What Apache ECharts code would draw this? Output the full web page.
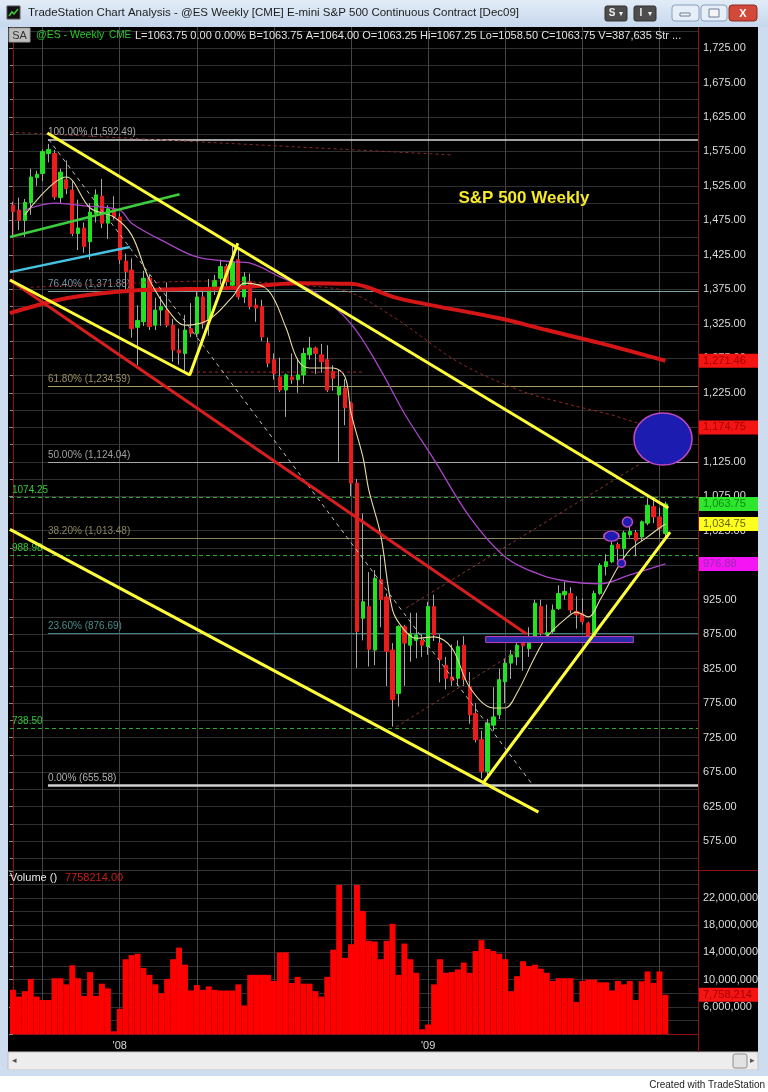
<!DOCTYPE html>
<html>
<head>
<meta charset="utf-8">
<title>S&amp;P 500 Weekly</title>
<script src="https://cdn.jsdelivr.net/npm/echarts@6.0.0/dist/echarts.min.js"></script>
<style>
html,body{margin:0;padding:0;background:#000;}
#chart{width:768px;height:1092px;}
</style>
</head>
<body>
<div id="chart"></div>
<script>
// ================= DATA =================
const firstWeek = '2007-08-27';
const slotCount = 116;
const barOpen = [1497,1490,1475,1501,1537,1543,1572,1572,1508,1534, 1519,1456,1464,1444,1485,1510,1471,1492,1480,1416, 1403,1320,1328,1391,1323,1345,1345,1323,1287,1282, 1318,1311,1364,1330,1376,1391,1408,1381,1418,1364, 1386,1352,1350,1297,1273,1248,1229,1248,1244,1251, 1280,1290,1280,1273,1256,1222,1232,1210,1094,898, 915,852,954,929,852,789,886,859,866,866, 857,915,862,830,813,811,859,799,760,722, 676,743,758,806,833,842,862,854,869,915, 874,879,912,932,934,908,905,891,871,934, 973,980,1005,999,1019,1022,1016,1036,1060,1045, 1021];
const barClose = [1488,1475,1501,1538,1542,1575,1578,1509,1545,1521, 1456,1464,1437,1487,1512,1471,1492,1480,1418,1401, 1318,1330,1391,1321,1345,1350,1323,1287,1283,1316, 1311,1364,1326,1374,1388,1408,1386,1415,1364,1393, 1350,1348,1306,1268,1253,1229,1251,1244,1251,1282, 1290,1282,1270,1229,1246,1234,1203,1094,879,922, 853,956,925,850,780,886,862,876,874,859, 915,874,838,811,808,857,809,758,722,676, 746,755,809,833,845,859,858,869,920,876, 877,910,934,937,910,903,893,871,934,975, 980,1004,999,1022,1024,1011,1038,1062,1045,1028, 1063.75];
const barHigh = [1502,1508,1506,1550,1547,1578,1586,1577,1550,1562, 1532,1505,1472,1500,1520,1535,1497,1510,1485,1427, 1420,1352,1402,1396,1363,1365,1385,1332,1318,1338, 1355,1376,1377,1390,1396,1418,1412,1440,1432,1400, 1398,1362,1360,1305,1282,1276,1253,1282,1275,1290, 1306,1292,1296,1294,1265,1258,1245,1212,1100,1050, 965,968,990,934,862,888,888,906,906,875, 922,932,875,842,860,866,872,820,775,735, 752,798,825,840,852,872,866,885,925,925, 918,918,946,951,943,930,927,893,938,978, 991,1013,1008,1025,1035,1026,1040,1072,1074.25,1058, 1067.25];
const barLow = [1452,1461,1451,1483,1525,1532,1559,1505,1500,1513, 1452,1432,1428,1418,1472,1464,1448,1476,1412,1375, 1305,1265,1322,1316,1316,1322,1320,1270,1266,1253, 1306,1306,1318,1308,1367,1382,1380,1378,1360,1355, 1346,1328,1300,1262,1244,1226,1190,1238,1225,1238, 1273,1252,1254,1226,1228,1125,1178,1075,826,866, 828,830,885,800,741,770,800,835,840,842, 845,865,805,795,800,800,800,745,718,666, 667,735,752,775,810,830,822,842,866,873, 870,876,910,925,905,883,889,864,868,932, 960,978,982,975,1015,988,1010,1033,1036,1015, 1014];
// volume in millions of contracts
const volumeM = [8.5,7.5,8.3,10.1,7.5,7.0,7.0,10.2,10.2,9.3, 12.1,10.2,7.6,11.1,7.6,9.4,8.7,2.4,5.7,13.0, 13.6,13.8,11.7,10.7,9.3,8.0,10.1,13.0,14.7,12.2, 8.4,9.2,8.5,9.0,8.5,8.4,8.4,8.4,9.3,6.2, 10.7,10.7,10.7,10.7,9.8,14.0,14.0,9.5,10.4,9.4, 9.4,8.3,7.5,10.4,14.4,23.9,13.2,15.2,23.9,20.1, 15.7,15.6,13.0,15.7,18.2,10.7,15.3,13.0,11.0,2.7, 3.4,9.3,13.0,11.0,11.1,11.5,12.5,11.0,14.2,15.8, 14.5,14.2,13.8,13.0,8.3,10.5,12.7,12.0,12.2,11.6, 11.0,9.8,10.2,10.2,10.2,6.7,9.8,10.0,10.0,9.6, 9.6,8.4,9.8,9.3,9.8,7.0,9.75,11.2,9.5,11.2, 7.758214];

const xTickIdx = [18, 70];
const xTickText = ["'08", "'09"];
const quarterIdx = [5, 18, 31, 44, 57, 70, 83, 96, 109];

// moving averages: [bar, price]
const maFast = [[2,1483],[9,1538],[13,1493],[17,1480],[20,1454],[23,1389],[27,1335],[29,1323],[33,1331],[37,1364],[39,1384],[43,1374],[46,1320],[48,1273],[50,1261],[54,1261],[56,1248],[57,1196],[59,1132],[60,1084],[62,1019],[64,910],[66,881],[68,869],[71,871],[74,855],[77,798],[81,768],[83,768],[85,790],[88,842],[90,871],[93,896],[95,907],[97,900],[99,925],[102,972],[104,997],[107,1016],[109,1029],[110,1034.75]];
const maMid = [[2,1490],[7,1500],[12,1496],[18,1490],[20,1471],[26,1442],[31,1422],[37,1415],[40,1413],[45,1393],[51,1370],[57,1325],[62,1258],[66,1195],[71,1128],[77,1045],[83,987],[89,961],[94,951],[99,948],[104,961],[110,976.88]];
const maSlow = [[-0.5,1340],[0,1342],[9,1362],[20,1373],[37,1377],[48,1384],[57,1383],[65,1362],[82,1333],[90,1316],[99,1297],[110,1271.46]];
const maSlowDash = [[3,1378],[20,1384],[34,1387],[50,1380],[57,1370],[65,1330],[75,1270],[85,1230],[92,1212],[100,1195],[109,1175],[110,1174.75]];

// Fibonacci retracement
const fibPct = ['100.00%','76.40%','61.80%','50.00%','38.20%','23.60%','0.00%'];
const fibLevels = [1592.49, 1371.88, 1234.59, 1124.04, 1013.48, 876.69, 655.58];
const fibLineColors = ['#d6d6d6','#7fa3a3','#a89c6a','#a6a6a6','#8c8660','#3d8282','#d0d0d0'];
const fibTextColors = ['#a8a8a8','#7794a4','#9a8e60','#a0a0a0','#8a8460','#4a8c8c','#b0b0b0'];
const greenLevels = [1074.25, 988.98, 738.50];

// drawn trendlines [bar, price]
const yellowUpper = [[5.8,1601.7],[110.5,1058]];
const yellowLower = [[-0.5,1027],[88.6,617]];
const yellowZig = [[-0.5,1388.6],[29.8,1250.8],[37.9,1442]];
const yellowRise = [[79.4,660.6],[110.8,1023]];
const redDiag = [[-0.5,1388.6],[86.6,875.2]];
const greenTrend = [[-0.5,1451],[28.1,1513]];
const cyanTrend = [[-0.5,1400],[19.7,1436.4]];
const grayDash = [[6,1592.49],[87.4,659]];
const redDashTop = [[-0.5,1603],[74,1570]];
const redDashFlat = [[29,1255],[59,1255]];
const redDashA = [[64.6,740.4],[85.3,852]];
const redDashB = [[66.3,912.9],[106,1123.2]];
const supportBox = [[79.7,871.5],[104.6,862.8]];
// ellipses: [bar, price, widthPx, heightPx]
const ellipses = [[109.6,1158,58,52],[103.6,1037.6,10,10],[100.9,1017,15,10],[102.6,978,8,8]];

// right-axis value flags
const flagValues = [1271.46, 1174.75, 1063.75, 1034.75, 976.88];
const flagFills = ['#f41414','#f41414','#2ee62e','#ffff1e','#f414f4'];
const flagTexts = ['#a80000','#a80000','#0f8a0f','#66660f','#9a2cb0'];
const volFlagValue = 7758214;

// ================= HELPERS =================
function fmtNum(v, dec) {
  const s = Number(v).toFixed(dec);
  const parts = s.split('.');
  const ii = parts[0].replace(/\B(?=(\d{3})+(?!\d))/g, ',');
  return parts.length > 1 ? ii + '.' + parts[1] : ii;
}
const cats = [];
{
  const d0 = new Date(firstWeek + 'T00:00:00Z').getTime();
  for (let i = 0; i < slotCount; i++) cats.push(new Date(d0 + i * 7 * 86400000).toISOString().slice(0, 10));
}
const wickData = barOpen.map((o, i) => [o, barClose[i], barLow[i], barHigh[i]]);
const bodyData = barOpen.map((o, i) => [o, barClose[i], Math.min(o, barClose[i]), Math.max(o, barClose[i])]);

const FF = '"Liberation Sans", Arial, sans-serif';
const GL = 10, GW = 688;

function trend(data, color, width, type, z) {
  return { type: 'line', xAxisIndex: 1, yAxisIndex: 0, data: data, symbol: 'none', silent: true,
    z: z || 5, lineStyle: { color: color, width: width, type: type || 'solid' }, animation: false };
}
function ma(data, color, width, type) {
  return { type: 'line', xAxisIndex: 1, yAxisIndex: 0, data: data, symbol: 'none', silent: true,
    smooth: 0.35, z: 4, lineStyle: { color: color, width: width, type: type || 'solid' }, animation: false };
}

const fibMarks = fibLevels.map((lv, i) => [
  { coord: [5.9, lv], lineStyle: { color: fibLineColors[i], width: (i === 6 ? 2.5 : (i === 0 ? 1.5 : 1)), type: 'solid' },
    label: { show: true, position: 'insideStartTop', distance: [0, 2], formatter: fibPct[i] + ' (' + fmtNum(lv, 2) + ')',
      color: fibTextColors[i], fontSize: 10, fontFamily: FF } },
  { coord: [slotCount - 0.5, lv] }
]);
const greenMarks = greenLevels.map(lv => [
  { coord: [-0.5, lv], lineStyle: { color: '#2ea82e', width: 1, type: [4, 3] },
    label: { show: true, position: 'insideStartTop', distance: [2, 2], formatter: fmtNum(lv, 2).replace(',', ''),
      color: '#33c833', fontSize: 10, fontFamily: FF } },
  { coord: [slotCount - 0.5, lv] }
]);

const axisCommon = {
  axisLine: { show: true, lineStyle: { color: '#8e1212', width: 1 } },
  axisTick: { show: true, inside: true, length: 4, lineStyle: { color: '#8a8a8a' } },
  minorTick: { show: true, splitNumber: 2, length: 3, lineStyle: { color: '#8a8a8a' } },
  splitLine: { show: true, showMinLine: false, showMaxLine: false, lineStyle: { color: '#303030', width: 1 } },
  minorSplitLine: { show: true, lineStyle: { color: '#303030', width: 1 } }
};

const option = {
  backgroundColor: '#000',
  animation: false,
  textStyle: { fontFamily: FF },
  grid: [
    { left: GL, width: GW, top: 13.52, height: 862.0, outerBoundsMode: 'none', containLabel: false },
    { left: GL, width: GW, top: 870.8, height: 163.2, outerBoundsMode: 'none', containLabel: false }
  ],
  xAxis: [
    { type: 'category', gridIndex: 0, data: cats, show: false },
    { type: 'value', gridIndex: 0, min: -0.5, max: slotCount - 0.5, show: false },
    { type: 'category', gridIndex: 1, data: cats,
      axisLine: { show: true, lineStyle: { color: '#8e1212' } }, axisTick: { show: false },
      splitLine: { show: false },
      axisLabel: { interval: 0, margin: 6, color: '#d8d8d8', fontSize: 11, fontFamily: FF,
        formatter: function (val, idx) { const k = xTickIdx.indexOf(idx); return k >= 0 ? xTickText[k] : ''; } } },
    { type: 'value', gridIndex: 1, min: -0.5, max: slotCount - 0.5, show: false }
  ],
  yAxis: [
    Object.assign({ type: 'value', gridIndex: 0, position: 'right', min: 525, max: 1775, interval: 50,
      axisLabel: { showMinLabel: false, showMaxLabel: false, margin: 5, color: '#dcdcdc', fontSize: 11, fontFamily: FF,
        formatter: v => fmtNum(v, 2) } }, axisCommon),
    Object.assign({ type: 'value', gridIndex: 1, position: 'right', min: 2000000, max: 26000000, interval: 4000000,
      axisLabel: { showMinLabel: false, showMaxLabel: false, margin: 5, color: '#dcdcdc', fontSize: 11, fontFamily: FF,
        formatter: v => fmtNum(v, 0) } }, axisCommon)
  ],
  series: [
    // quarter grid lines (price)
    { type: 'line', xAxisIndex: 1, yAxisIndex: 0, data: [], silent: true, z: 1,
      markLine: { silent: true, z: 1, symbol: ['none', 'none'], label: { show: false },
        lineStyle: { color: '#454545', width: 1, type: 'solid' },
        data: quarterIdx.map(i => ({ xAxis: i })) } },
    // fib and support levels
    { type: 'line', xAxisIndex: 1, yAxisIndex: 0, data: [], silent: true, z: 1,
      markLine: { silent: true, z: 1, symbol: ['none', 'none'], animation: false,
        data: fibMarks.concat(greenMarks) } },
    // wicks
    { type: 'candlestick', xAxisIndex: 0, yAxisIndex: 0, z: 2, silent: true, barWidth: 1, data: wickData,
      itemStyle: { color: '#a8a8a8', color0: '#a8a8a8', borderColor: '#a8a8a8', borderColor0: '#a8a8a8', borderWidth: 1 } },
    // bodies
    { type: 'candlestick', xAxisIndex: 0, yAxisIndex: 0, z: 3, silent: true, barWidth: 3.8, data: bodyData,
      itemStyle: { color: '#22e022', color0: '#ec1c1c', borderColor: '#22e022', borderColor0: '#ec1c1c', borderWidth: 1 } },
    // moving averages
    ma(maSlowDash, '#9a2626', 1, [3, 3]),
    ma(maSlow, '#d41616', 4),
    ma(maMid, '#a844c8', 1.3),
    ma(maFast, '#e6dca2', 1.1),
    // trendlines
    trend(redDashTop, '#8a2a2a', 1, [3, 3]),
    trend(redDashFlat, '#9a2a2a', 1, [3, 3]),
    trend(redDashA, '#8a3a2a', 1, [3, 3]),
    trend(redDashB, '#8a3a2a', 1, [3, 3]),
    trend(grayDash, '#bdbdbd', 1, [4, 4]),
    trend(greenTrend, '#3ccc3c', 2.5),
    trend(cyanTrend, '#46c2e2', 2.5),
    trend(redDiag, '#d81e1e', 3),
    trend(yellowUpper, '#ffff3a', 3),
    trend(yellowLower, '#ffff3a', 3),
    trend(yellowZig, '#ffff3a', 3),
    trend(yellowRise, '#ffff3a', 3),
    // support box
    { type: 'line', xAxisIndex: 1, yAxisIndex: 0, data: [], silent: true, z: 5,
      markArea: { silent: true, z: 5, itemStyle: { color: '#2a2aa6', borderColor: '#c040c0', borderWidth: 1 },
        data: [[{ coord: supportBox[0] }, { coord: supportBox[1] }]] } },
    // ellipses
    { type: 'scatter', xAxisIndex: 1, yAxisIndex: 0, z: 6, silent: true, symbol: 'circle',
      data: ellipses.map(e => ({ value: [e[0], e[1]], symbolSize: [e[2], e[3]] })),
      itemStyle: { color: '#1c1cb0', borderColor: '#c048c0', borderWidth: 1.5, opacity: 1 } },
    // volume
    { type: 'bar', xAxisIndex: 2, yAxisIndex: 1, z: 2, silent: true, data: volumeM.map(v => v * 1e6),
      barCategoryGap: '0%', barGap: '0%', itemStyle: { color: '#ff0000' } },
    { type: 'line', xAxisIndex: 3, yAxisIndex: 1, data: [], silent: true, z: 1,
      markLine: { silent: true, z: 1, symbol: ['none', 'none'], label: { show: false },
        lineStyle: { color: '#454545', width: 1, type: 'solid' },
        data: quarterIdx.map(i => ({ xAxis: i })) } }
  ]
};

const chart = echarts.init(document.getElementById('chart'), null, { renderer: 'canvas' });
chart.setOption(option);

// ================= CHROME / ANNOTATIONS =================
function txt(t, x, y, size, fill, align, weight) {
  return { type: 'text', z: 110, silent: true,
    style: { text: t, x: x, y: y, font: (weight || 'normal') + ' ' + size + 'px ' + FF, fill: fill,
      textAlign: align || 'left', align: align || 'left', textVerticalAlign: 'middle', verticalAlign: 'middle' } };
}
function rect(x, y, w, h, fill, stroke, r) {
  const o = { type: 'rect', z: 100, silent: true, shape: { x: x, y: y, width: w, height: h, r: r || 0 }, style: { fill: fill } };
  if (stroke) { o.style.stroke = stroke; o.style.lineWidth = 1; }
  return o;
}
const frameCol = '#cddcee';
const G = [];
// title bar
G.push({ type: 'rect', z: 100, silent: true, shape: { x: 0, y: 0, width: 768, height: 27 },
  style: { fill: { type: 'linear', x: 0, y: 0, x2: 0, y2: 1, colorStops: [{ offset: 0, color: '#e2ecf7' }, { offset: 1, color: '#c6d8ed' }] } } });
G.push(rect(7, 6, 13, 13, '#111', '#555'));
G.push({ type: 'polyline', z: 105, silent: true, shape: { points: [[9, 16], [12, 12], [14, 14], [18, 9]] }, style: { stroke: '#3ad03a', lineWidth: 1.5, fill: null } });
G.push(txt('TradeStation Chart Analysis - @ES Weekly [CME] E-mini S&P 500 Continuous Contract [Dec09]', 28, 13, 11.5, '#1c1c1c'));
G.push(rect(605, 6, 22, 15, '#4d4d4d', '#333', 2));
G.push(txt('S', 612, 13.5, 10, '#f0f0f0', 'center', 'bold'));
G.push(txt('▾', 621, 14, 8, '#f0f0f0', 'center'));
G.push(rect(634, 6, 22, 15, '#4d4d4d', '#333', 2));
G.push(txt('I', 641, 13.5, 10, '#f0f0f0', 'center', 'bold'));
G.push(txt('▾', 650, 14, 8, '#f0f0f0', 'center'));
G.push(rect(672, 5, 27, 16, '#e6eef8', '#8aa0bf', 3));
G.push(rect(680, 13, 10, 3, '#f4f4f4', '#6a7f9c'));
G.push(rect(701, 5, 26, 16, '#e6eef8', '#8aa0bf', 3));
G.push(rect(709, 9, 10, 8, '#f4f4f4', '#6a7f9c'));
G.push(rect(729, 5, 28, 16, '#d2493a', '#8c2a20', 3));
G.push(txt('X', 743, 13.5, 11, '#ffffff', 'center', 'bold'));
// side frames & bottom
G.push(rect(0, 27, 8, 1049, frameCol));
G.push(rect(758, 27, 10, 1049, frameCol));
G.push(rect(8, 1052, 750, 18, '#ededed', '#c2c2c2'));
G.push(txt('◂', 14, 1061, 9, '#555', 'center'));
G.push(rect(733, 1054, 14, 14, '#e2e2e2', '#8e8e8e', 2));
G.push(txt('▸', 752, 1061, 9, '#555', 'center'));
G.push(rect(0, 1070, 768, 6, frameCol));
G.push(rect(0, 1076, 768, 16, '#ffffff'));
G.push(txt('Created with TradeStation', 765, 1085, 10, '#222', 'right'));
// right axis line extension and panel separators
G.push({ type: 'line', z: 100, silent: true, shape: { x1: 698.5, y1: 27, x2: 698.5, y2: 1052 }, style: { stroke: '#8e1212', lineWidth: 1 } });
G.push({ type: 'line', z: 100, silent: true, shape: { x1: 698, y1: 870.5, x2: 758, y2: 870.5 }, style: { stroke: '#8e1212', lineWidth: 1 } });
G.push({ type: 'line', z: 99, silent: true, shape: { x1: 8, y1: 870.5, x2: 698, y2: 870.5 }, style: { stroke: '#3a3a3a', lineWidth: 1 } });
// header info line
G.push(rect(9, 28, 21, 14, '#bdbdbd', '#9a9a9a'));
G.push(txt('SA', 19.5, 35.5, 11, '#333', 'center'));
G.push(txt('@ES - Weekly', 36, 35.5, 10.5, '#2ac82a'));
G.push(txt('CME', 109, 35.5, 10, '#2ac82a'));
G.push(txt('L=1063.75 0.00 0.00% B=1063.75 A=1064.00 O=1063.25 Hi=1067.25 Lo=1058.50 C=1063.75 V=387,635 Str ...', 135, 35.5, 11, '#e2e2e2'));
// volume header
G.push(txt('Volume ()', 10, 878, 11, '#e8e8e8'));
G.push(txt('7758214.00', 65, 878, 11, '#c81e1e'));
// annotation text
G.push(txt('S&P 500 Weekly', 524, 198, 17, '#f6e82a', 'center', 'bold'));

// value flags on the right axis
flagValues.forEach((v, i) => {
  const y = chart.convertToPixel({ yAxisIndex: 0 }, v);
  G.push(rect(699, y - 7, 59, 14, flagFills[i]));
  G.push(txt(fmtNum(v, 2), 703, y, 11, flagTexts[i]));
});
{
  const y = chart.convertToPixel({ yAxisIndex: 1 }, volFlagValue);
  G.push(rect(699, y - 7, 59, 14, '#f41414'));
  G.push(txt(fmtNum(volFlagValue, 0), 703, y, 11, '#a80000'));
}
chart.setOption({ graphic: { elements: G } });
</script>
</body>
</html>
